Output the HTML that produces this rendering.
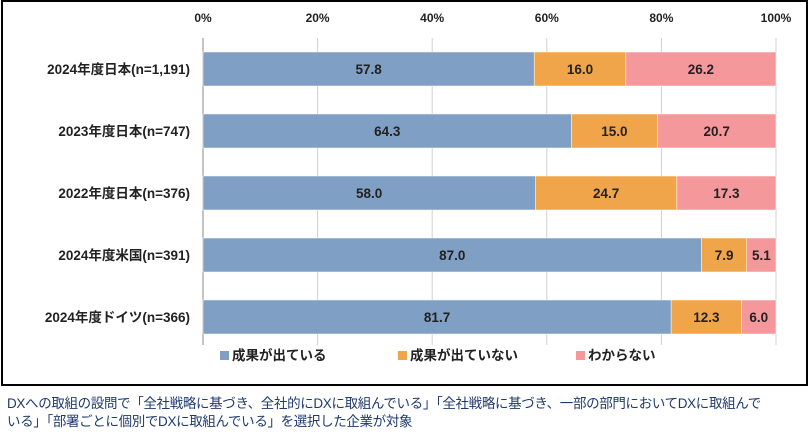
<!DOCTYPE html>
<html><head><meta charset="utf-8"><style>
body{margin:0;background:#fff;width:809px;height:438px;overflow:hidden;font-family:"Liberation Sans","Noto Sans CJK JP",sans-serif;}
#frame{position:absolute;left:1px;top:0;width:803px;height:382px;border:2px solid #000;}
#cap{position:absolute;left:7px;top:395px;width:805px;font-size:13.5px;line-height:18px;color:#1f3a6e;letter-spacing:-0.35px;white-space:nowrap;}
</style></head><body>
<div id="frame"></div>
<svg id="chart" width="809" height="438" style="position:absolute;left:0;top:0"></svg>
<div id="cap">DXへの取組の設問で「全社戦略に基づき、全社的にDXに取組んでいる」「全社戦略に基づき、一部の部門においてDXに取組んで<br>いる」「部署ごとに個別でDXに取組んでいる」を選択した企業が対象</div>
<script>
const categories=["2024年度日本(n=1,191)","2023年度日本(n=747)","2022年度日本(n=376)","2024年度米国(n=391)","2024年度ドイツ(n=366)"];
const seriesNames=["成果が出ている","成果が出ていない","わからない"];
const s1=[57.8,64.3,58.0,87.0,81.7];
const s2=[16.0,15.0,24.7,7.9,12.3];
const s3=[26.2,20.7,17.3,5.1,6.0];
const ticks=[0,20,40,60,80,100];
const colors=["#7f9fc4","#f0a54a","#f4989b"];
const svg=document.getElementById('chart');
const NS="http://www.w3.org/2000/svg";
const x0=203,x1=776,yTop=38,yBot=345,rowTop=52,rowStep=62,barH=34;
const x=v=>x0+(x1-x0)*v/100;
const yRow=i=>rowTop+i*rowStep;
function mk(t,a){const e=document.createElementNS(NS,t);for(const k in a)e.setAttribute(k,a[k]);svg.appendChild(e);return e;}
ticks.forEach(t=>{
 const l=mk('line',{x1:x(t),x2:x(t),y1:yTop,y2:yBot,stroke:t===0?'#888':'#d0d0d0','stroke-width':1});
 
 
 const tx=mk('text',{x:x(t),y:22,'text-anchor':'middle','font-size':12,'font-weight':'bold',fill:'#222'});
 tx.textContent=t+'%';
 
 
});
const series=[s1,s2,s3];
categories.forEach((c,i)=>{
 const y=yRow(i);
 const lb=mk('text',{x:190,y:y+barH/2+5,'text-anchor':'end','font-size':13.5,'font-weight':'bold',fill:'#222'});
 lb.textContent=c;
 
 
 let acc=0;
 series.forEach((s,k)=>{
  const v=s[i];
  const r=mk('rect',{x:x(acc),y:y,width:x(acc+v)-x(acc),height:barH,fill:colors[k],stroke:'#fff','stroke-width':0.5});
  
  
  const t=mk('text',{x:(x(acc)+x(acc+v))/2,y:y+barH/2+5,'text-anchor':'middle','font-size':13.5,'font-weight':'bold',fill:'#222'});
  t.textContent=v.toFixed(1);
  
  
  acc+=v;
 });
});
const lx=[220,398,576];
seriesNames.forEach((n,k)=>{
 const r=mk('rect',{x:lx[k],y:351,width:9,height:9,fill:colors[k]});
 
 
 const t=mk('text',{x:lx[k]+12,y:360,'font-size':13.5,'font-weight':'bold',fill:'#222'});
 t.textContent=n;
 
 
});
</script>
</body></html>
